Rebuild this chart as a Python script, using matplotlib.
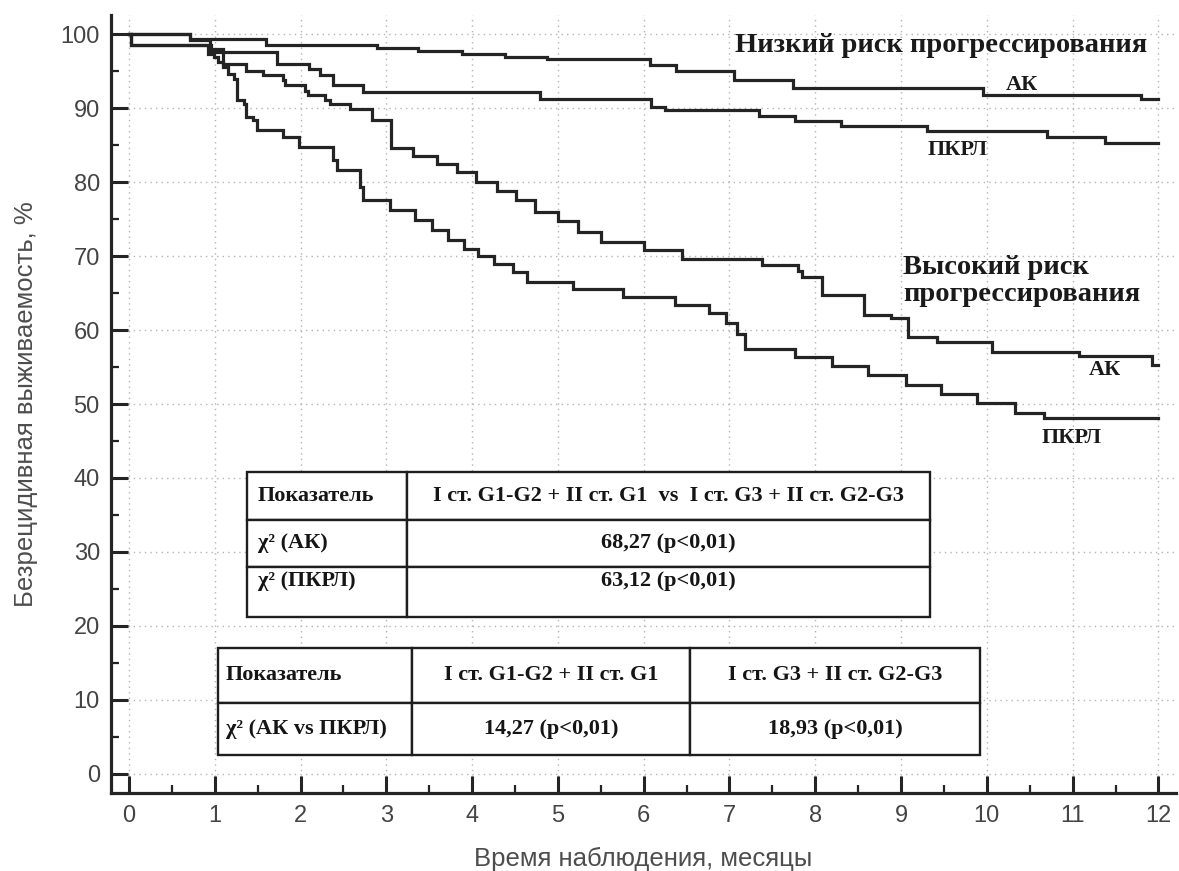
import matplotlib
matplotlib.use("Agg")
import matplotlib.pyplot as plt
from matplotlib.ticker import MultipleLocator

# Kaplan-Meier curves: time of each step (months) and survival after the step (%)
low_ak_t = [0, 0.71, 1.6, 2.89, 3.37, 3.88, 4.38, 4.87, 6.07, 6.38, 7.05, 7.74, 9.95, 11.8]
low_ak_s = [100, 99.4, 98.6, 98.2, 97.7, 97.3, 97.0, 96.7, 95.8, 95.1, 93.8, 92.7, 91.8, 91.2]

low_pkrl_t = [0, 0.02, 0.96, 1.1, 1.72, 2.1, 2.23, 2.38, 2.73, 4.79, 6.09, 6.25, 7.34, 7.76,
              8.3, 9.3, 10.7, 11.38]
low_pkrl_s = [100, 98.5, 98.0, 97.6, 96.0, 95.3, 94.5, 93.1, 92.2, 91.3, 90.2, 89.8, 89.0, 88.3,
              87.6, 86.9, 86.1, 85.3]

high_ak_t = [0, 0.71, 0.95, 1.1, 1.37, 1.56, 1.79, 1.82, 2.05, 2.09, 2.28, 2.34, 2.58, 2.83,
             3.06, 3.31, 3.59, 3.82, 4.05, 4.29, 4.51, 4.73, 5.0, 5.24, 5.5, 6.0, 6.45, 7.38,
             7.8, 7.85, 8.08, 8.57, 8.88, 9.08, 9.42, 10.06, 11.07, 11.92]
high_ak_s = [100, 99.2, 97.6, 96.0, 95.1, 94.5, 93.8, 93.1, 92.4, 91.8, 91.1, 90.6, 89.9, 88.4,
             84.6, 83.6, 82.5, 81.4, 80.0, 78.8, 77.6, 76.0, 74.7, 73.3, 71.9, 70.8, 69.6, 68.8,
             68.0, 67.2, 64.7, 62.0, 61.6, 59.1, 58.4, 57.1, 56.5, 55.3]

high_pkrl_t = [0, 0.02, 0.92, 0.99, 1.04, 1.1, 1.16, 1.22, 1.26, 1.34, 1.37, 1.45, 1.49, 1.8,
               1.98, 2.38, 2.42, 2.69, 2.73, 3.04, 3.33, 3.53, 3.72, 3.9, 4.07, 4.25, 4.48,
               4.64, 5.18, 5.76, 6.36, 6.76, 6.96, 7.09, 7.18, 7.76, 8.19, 8.61, 9.06, 9.46,
               9.88, 10.33, 10.67]
high_pkrl_s = [100, 98.5, 97.4, 96.9, 96.3, 95.6, 94.7, 94.0, 91.1, 90.6, 88.8, 88.4, 87.0, 86.1,
               84.8, 83.0, 81.6, 79.4, 77.6, 76.2, 74.9, 73.5, 72.2, 71.0, 70.0, 68.9, 67.8,
               66.5, 65.6, 64.5, 63.4, 62.3, 60.9, 59.5, 57.5, 56.4, 55.2, 53.9, 52.6, 51.4,
               50.2, 48.8, 48.1]

t_end = 12

x_ticks = list(range(0, 13))
y_ticks = list(range(0, 101, 10))

table1_rows = [
    ["Показатель", "I ст. G1-G2 + II ст. G1  vs  I ст. G3 + II ст. G2-G3"],
    ["χ² (АК)", "68,27 (р<0,01)"],
    ["χ² (ПКРЛ)\n", "63,12 (р<0,01)\n"],
]
table2_rows = [
    ["Показатель", "I ст. G1-G2 + II ст. G1", "I ст. G3 + II ст. G2-G3"],
    ["χ² (АК vs ПКРЛ)", "14,27 (р<0,01)", "18,93 (р<0,01)"],
]

SERIF = "Liberation Serif"
SANS = "Liberation Sans"
LINE = "#242424"


def km_step(ax, t, s):
    ax.step(t + [t_end], s + [s[-1]], where="post", color=LINE, lw=2.3, solid_joinstyle="miter")


fig = plt.figure(figsize=(11.79, 8.71), dpi=100)
ax = fig.add_axes([0.0941, 0.0896, 0.903, 0.893])

for t, s in [(low_ak_t, low_ak_s), (low_pkrl_t, low_pkrl_s),
             (high_ak_t, high_ak_s), (high_pkrl_t, high_pkrl_s)]:
    km_step(ax, t, s)

ax.set_xlim(-0.21, 12.2)
ax.set_ylim(-2.6, 102.6)
ax.set_xticks(x_ticks)
ax.set_yticks(y_ticks)
ax.xaxis.set_minor_locator(MultipleLocator(0.5))
ax.yaxis.set_minor_locator(MultipleLocator(5))
ax.grid(True, which="major", linestyle=(0, (1, 3)), color="#b4b4b4", lw=1.0)
ax.set_axisbelow(True)

for side in ["top", "right"]:
    ax.spines[side].set_visible(False)
for side in ["left", "bottom"]:
    ax.spines[side].set_linewidth(2.3)
    ax.spines[side].set_color(LINE)

ax.tick_params(which="major", direction="in", length=12, width=2.2, color=LINE,
               labelsize=17, labelcolor="#444444")
ax.tick_params(axis="x", which="major", pad=9)
ax.tick_params(axis="y", which="major", pad=8)
ax.tick_params(which="minor", direction="in", length=6, width=1.6, color=LINE)
for lab in ax.get_xticklabels() + ax.get_yticklabels():
    lab.set_family(SANS)

ax.set_xlabel("Время наблюдения, месяцы", family=SANS, fontsize=18.5, color="#4d4d4d",
              labelpad=14)
ax.set_ylabel("Безрецидивная выживаемость, %", family=SANS, fontsize=18.5, color="#4d4d4d",
              labelpad=16)

# curve annotations
lbl = dict(family=SERIF, fontweight="bold", color="#1a1a1a")
ax.text(7.06, 98.5, "Низкий риск прогрессирования", fontsize=20.5, ha="left", va="center", **lbl)
ax.text(10.41, 93.1, "АК", fontsize=16, ha="center", va="center", **lbl)
ax.text(9.66, 84.3, "ПКРЛ", fontsize=16, ha="center", va="center", **lbl)
ax.text(9.02, 66.6, "Высокий риск\nпрогрессирования", fontsize=20.5, ha="left", va="center",
        linespacing=1.1, **lbl)
ax.text(11.38, 54.6, "АК", fontsize=16, ha="center", va="center", **lbl)
ax.text(10.99, 45.4, "ПКРЛ", fontsize=16, ha="center", va="center", **lbl)


def draw_table(rows, bbox, col_widths, row_heights, pad):
    tb = ax.table(cellText=rows, colWidths=col_widths, bbox=bbox, cellLoc="center", zorder=5)
    tb.auto_set_font_size(False)
    for (r, c), cell in tb.get_celld().items():
        cell.set_height(row_heights[r])
        cell.set_linewidth(1.7)
        cell.set_edgecolor("#1e1e1e")
        cell.set_facecolor("white")
        txt = cell.get_text()
        txt.set_fontfamily(SERIF)
        txt.set_fontweight("bold")
        txt.set_fontsize(16)
        txt.set_color("#151515")
        if c == 0:
            txt.set_ha("left")
            cell.PAD = pad
    return tb


draw_table(table1_rows, [0.1277, 0.2262, 0.6413, 0.1864], [0.234, 0.766], [1, 1, 1.05], 0.07)
draw_table(table2_rows, [0.1005, 0.0488, 0.7155, 0.1376], [0.255, 0.365, 0.38], [1, 0.95], 0.04)

fig.savefig("out.png", dpi=100)
